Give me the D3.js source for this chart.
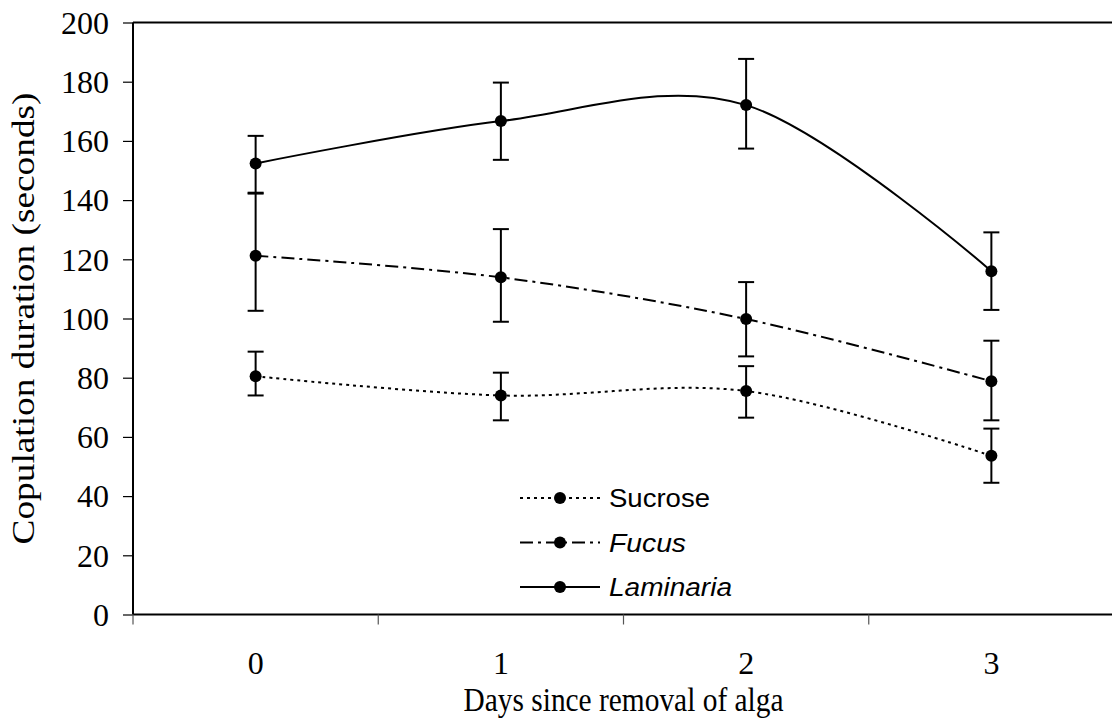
<!DOCTYPE html>
<html>
<head>
<meta charset="utf-8">
<script src="https://cdn.jsdelivr.net/npm/d3@7"></script>
<style>
  body { margin: 0; background: #fff; }
  svg { display: block; }
</style>
</head>
<body>
<div id="chart"></div>
<script>
// Copulation duration - three treatments

const width = 1112,
    height = 720;

const margin = {top: 22.5, right: -2, bottom: 105.5, left: 133};

// data
const days = ["0", "1", "2", "3"];
const yTicks = [0, 20, 40, 60, 80, 100, 120, 140, 160, 180, 200];

const sucroseMean  = [80.5, 74.0, 75.5, 53.6];
const sucroseUpper = [88.8, 81.7, 83.9, 62.8];
const sucroseLower = [74.0, 65.6, 66.5, 44.5];

const fucusMean  = [121.2, 113.9, 99.8, 78.8];
const fucusUpper = [142.2, 130.2, 112.3, 92.5];
const fucusLower = [102.6, 98.9, 87.2, 65.6];

const laminariaMean  = [152.4, 166.7, 172.1, 116.0];
const laminariaUpper = [161.7, 179.7, 187.7, 129.1];
const laminariaLower = [142.5, 153.6, 157.4, 102.9];

const series = [
  {name: "Sucrose", italic: false, dash: "3,4", len: 101, mean: sucroseMean, up: sucroseUpper, lo: sucroseLower},
  {name: "Fucus", italic: true, dash: "13,5,3,5", len: 77, mean: fucusMean, up: fucusUpper, lo: fucusLower},
  {name: "Laminaria", italic: true, dash: null, len: 123, mean: laminariaMean, up: laminariaUpper, lo: laminariaLower}
];

const serif = "'Liberation Serif', 'Times New Roman', serif";
const sans = "'Liberation Sans', Arial, sans-serif";

let svg = d3.select("#chart")
  .append("svg")
    .attr("width", width)
    .attr("height", height);

// scales
let x = d3.scaleBand()
  .domain(days)
  .range([margin.left, width - margin.right]);

let y = d3.scaleLinear()
  .domain([0, 200])
  .range([height - margin.bottom, margin.top]);

const cx = d => x(d) + x.bandwidth() / 2;

// plot frame: top line
svg.append("line")
  .attr("x1", margin.left).attr("x2", width)
  .attr("y1", y(200)).attr("y2", y(200))
  .attr("stroke", "#000").attr("stroke-width", 2);

// y axis
let yAxis = svg.append("g")
  .attr("transform", `translate(${margin.left},0)`)
  .call(d3.axisLeft(y).tickValues(yTicks).tickSize(10).tickPadding(14));
yAxis.select(".domain").attr("stroke-width", 2).attr("d", `M0,${y(0)}V${y(200)}`);
yAxis.selectAll(".tick line").attr("stroke", "#000").attr("stroke-width", 1.2);
yAxis.selectAll("text")
  .style("font-family", serif).style("font-size", "32px").attr("fill", "#000")
  .attr("dy", "0.34em");

// x axis: ticks sit between categories
let xAxis = svg.append("g")
  .attr("transform", `translate(0,${y(0)})`);
xAxis.append("line")
  .attr("x1", margin.left).attr("x2", width)
  .attr("stroke", "#000").attr("stroke-width", 2);
xAxis.selectAll("line.tk")
  .data(days)
  .join("line")
    .attr("class", "tk")
    .attr("x1", d => x(d)).attr("x2", d => x(d))
    .attr("y1", 0).attr("y2", 10)
    .attr("stroke", "#555").attr("stroke-width", 1.2);
xAxis.selectAll("text")
  .data(days)
  .join("text")
    .attr("x", d => cx(d))
    .attr("y", 59)
    .attr("text-anchor", "middle")
    .style("font-family", serif).style("font-size", "32px")
    .text(d => d);

// axis titles
svg.append("text")
  .attr("x", cx("1") + x.bandwidth() / 2)
  .attr("y", 711)
  .attr("text-anchor", "middle")
  .style("font-family", serif).style("font-size", "34px")
  .attr("textLength", 320)
  .attr("lengthAdjust", "spacingAndGlyphs")
  .text("Days since removal of alga");

svg.append("text")
  .attr("transform", `translate(34,${(y(0) + y(200)) / 2}) rotate(-90)`)
  .attr("text-anchor", "middle")
  .style("font-family", serif).style("font-size", "32px")
  .attr("textLength", 452)
  .attr("lengthAdjust", "spacingAndGlyphs")
  .text("Copulation duration (seconds)");

// smoothed lines (Excel style)
let line = d3.line()
  .x((d, i) => cx(days[i]))
  .y(d => y(d))
  .curve(d3.curveCardinal.tension(0));

series.forEach(s => {
  svg.append("path")
    .datum(s.mean)
    .attr("d", line)
    .attr("fill", "none")
    .attr("stroke", "#000")
    .attr("stroke-width", 2)
    .attr("stroke-dasharray", s.dash);

  // error bars
  let eb = svg.append("g");
  eb.selectAll("line.v")
    .data(days)
    .join("line")
      .attr("class", "v")
      .attr("x1", d => cx(d)).attr("x2", d => cx(d))
      .attr("y1", (d, i) => y(s.up[i])).attr("y2", (d, i) => y(s.lo[i]))
      .attr("stroke", "#000").attr("stroke-width", 2);
  [s.up, s.lo].forEach(arr => {
    eb.selectAll(null)
      .data(days)
      .join("line")
        .attr("x1", d => cx(d) - 8).attr("x2", d => cx(d) + 8)
        .attr("y1", (d, i) => y(arr[i])).attr("y2", (d, i) => y(arr[i]))
        .attr("stroke", "#000").attr("stroke-width", 2);
  });

  svg.selectAll(null)
    .data(s.mean)
    .join("circle")
      .attr("cx", (d, i) => cx(days[i]))
      .attr("cy", d => y(d))
      .attr("r", 6)
      .attr("fill", "#000");
});

// legend
let legend = svg.append("g").attr("transform", "translate(520,498)");
series.forEach((s, i) => {
  let g = legend.append("g").attr("transform", `translate(0,${i * 44.5})`);
  g.append("line")
    .attr("x1", 0).attr("x2", 80)
    .attr("stroke", "#000").attr("stroke-width", 2)
    .attr("stroke-dasharray", s.dash);
  g.append("circle").attr("cx", 40).attr("r", 6).attr("fill", "#000");
  g.append("text")
    .attr("x", 89).attr("y", 9)
    .style("font-family", sans).style("font-size", "25px")
    .style("font-style", s.italic ? "italic" : "normal")
    .attr("textLength", s.len)
    .attr("lengthAdjust", "spacingAndGlyphs")
    .text(s.name);
});
</script>
</body>
</html>
